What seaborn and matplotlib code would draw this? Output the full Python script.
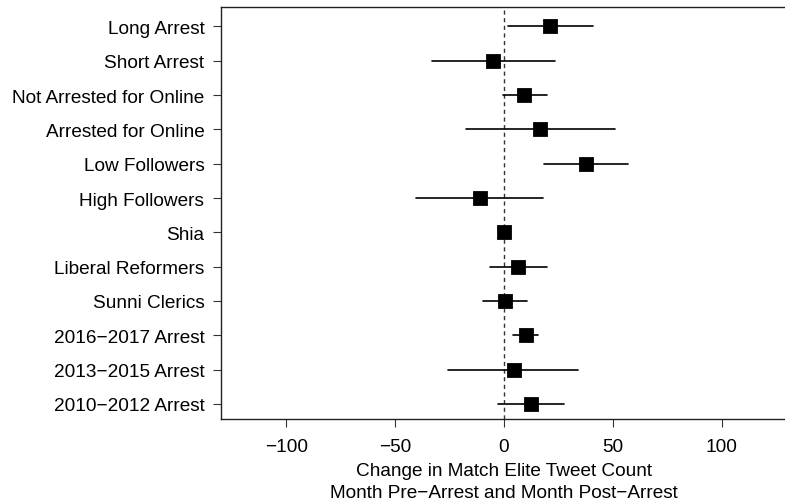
import numpy as np
import pandas as pd
import matplotlib
matplotlib.use("Agg")
import matplotlib.pyplot as plt
import seaborn as sns

categories = ["Long Arrest", "Short Arrest", "Not Arrested for Online",
              "Arrested for Online", "Low Followers", "High Followers",
              "Shia", "Liberal Reformers", "Sunni Clerics",
              "2016\u22122017 Arrest", "2013\u22122015 Arrest", "2010\u22122012 Arrest"]
estimate = [21.3, -5.0, 9.4, 16.7, 37.7, -11.2, -0.2, 6.6, 0.5, 9.9, 4.4, 12.2]
ci_low = [1.7, -32.9, -0.5, -17.3, 18.6, -40.6, -1.5, -6.5, -9.6, 4.0, -25.6, -2.7]
ci_high = [40.9, 23.5, 19.6, 50.8, 56.8, 18.1, 1.0, 19.6, 10.5, 15.7, 34.2, 27.4]
xticks = [-100, -50, 0, 50, 100]
xlabel = "Change in Match Elite Tweet Count\nMonth Pre\u2212Arrest and Month Post\u2212Arrest"

# long table: lower bound, estimate, upper bound per group -> median + full range
rows = []
for c, e, lo, hi in zip(categories, estimate, ci_low, ci_high):
    for v in (lo, e, hi):
        rows.append({"group": c, "value": v})
df = pd.DataFrame(rows)

sns.set_style("ticks")
plt.rcParams["font.family"] = ["Liberation Sans", "DejaVu Sans"]
plt.rcParams["axes.unicode_minus"] = True
plt.rcParams["text.color"] = "black"
plt.rcParams["axes.labelcolor"] = "black"
plt.rcParams["xtick.color"] = "black"
plt.rcParams["ytick.color"] = "black"

fig = plt.figure(figsize=(7.85, 5.02), dpi=100)
ax = fig.add_axes([221 / 785, 82 / 502, 566 / 785, 412 / 502])

ax.axvline(0, color="#333333", lw=1.0, ls=(0, (3, 2.5)), zorder=1)

sns.pointplot(data=df, x="value", y="group", order=categories, orient="h",
              estimator="median", errorbar=("pi", 100),
              linestyle="none", marker="s", markersize=8.0, color="black",
              err_kws={"linewidth": 1.2, "color": "black"}, ax=ax, zorder=3)

ax.set_xlim(-130, 130)
ax.set_ylim(11.44, -0.566)
ax.set_xticks(xticks)
ax.set_xticklabels([str(t).replace("-", "\u2212") for t in xticks])
ax.set_xlabel(xlabel, fontsize=13.7, linespacing=1.36, labelpad=5, color="black")
ax.set_ylabel("")
ax.tick_params(axis="x", labelsize=13.7, length=6, width=0.8, color="#333333",
               labelcolor="black", pad=8)
ax.tick_params(axis="y", labelsize=13.7, length=6, width=0.8, color="#333333",
               labelcolor="black", pad=6)

for side in ["top", "left", "bottom", "right"]:
    ax.spines[side].set_visible(True)
    ax.spines[side].set_color("#222222")
    ax.spines[side].set_linewidth(1.0)

fig.savefig("out.png", dpi=100)
